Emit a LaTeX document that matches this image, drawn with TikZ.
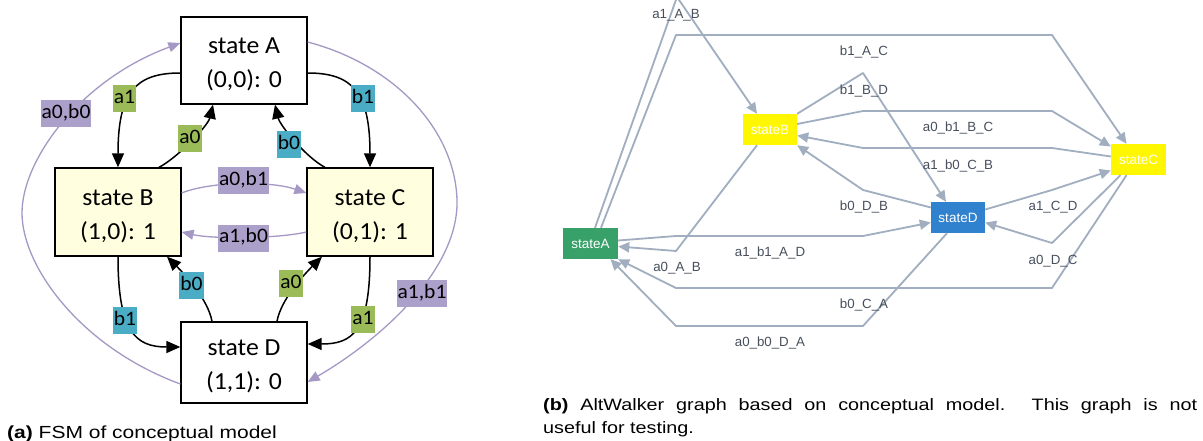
\documentclass[tikz,border=0pt]{standalone}
\usepackage{fontspec}
\usepackage{graphicx}
\usetikzlibrary{arrows.meta}

\newfontfamily\fsmfont[FakeStretch=1.05]{Carlito}
\newfontfamily\awfont{Liberation Sans}
\newfontfamily\capfont[FakeStretch=1.2]{Liberation Sans}

% left panel (FSM)
\definecolor{fsmgreen}{HTML}{9BBB59}
\definecolor{fsmblue}{HTML}{4BACC6}
\definecolor{fsmpurple}{HTML}{ABA0CA}
\definecolor{fsmline}{HTML}{A598C4}
\definecolor{fsmyellow}{HTML}{FFFFE0}
% right panel (AltWalker)
\definecolor{awline}{HTML}{A0AEC0}
\definecolor{awtext}{HTML}{474F5C}
\definecolor{awgreen}{HTML}{38A169}
\definecolor{awyellow}{HTML}{FFF700}
\definecolor{awblue}{HTML}{3182CE}

\begin{document}
\begin{tikzpicture}[x=1pt,y=-1pt,
  fsmstate/.style={draw=black,line width=1.3pt,minimum width=126pt,inner sep=0pt,
    align=center,font=\fsmfont\fontsize{24.5}{34}\selectfont},
  fsmlabel/.style={inner xsep=1pt,inner ysep=0pt,minimum height=27pt,
    text height=14pt,text depth=4pt,font=\fsmfont\fontsize{20.5}{22}\selectfont},
  fsmarrow/.style={line width=1.5pt,-{Triangle[length=14pt,width=12pt]}},
  fsmloop/.style={line width=1.3pt,color=fsmline,-{Triangle[length=12pt,width=10pt]}},
  awstate/.style={minimum width=55pt,minimum height=31pt,inner sep=0pt,text=white,
    font=\awfont\fontsize{13.5}{16}\selectfont},
  awedge/.style={line width=1.8pt,color=awline,line join=round,
    -{Triangle[length=11pt,width=10pt]}},
  awlabel/.style={text=awtext,inner sep=0pt,font=\awfont\fontsize{13.3}{15}\selectfont},
]
\clip (0,0) rectangle (1203,441);
\fill[white] (0,0) rectangle (1203,441);

% ---------------- FSM of the conceptual model ----------------
\node[fsmstate,minimum height=87pt] (A) at (244,60.5) {\rule{0pt}{24pt}state A\\(0,0): 0};
\node[fsmstate,minimum height=88pt,fill=fsmyellow] (B) at (118,212) {\rule{0pt}{24pt}state B\\(1,0): 1};
\node[fsmstate,minimum height=88pt,fill=fsmyellow] (C) at (370,212) {\rule{0pt}{24pt}state C\\(0,1): 1};
\node[fsmstate,minimum height=81pt] (D) at (244,362.5) {\rule{0pt}{24pt}state D\\(1,1): 0};

% single-input transitions
\draw[fsmarrow] ([yshift=-12.5pt]A.west) .. controls +(-45,0) and +(0,-75) .. (B.north);
\draw[fsmarrow] ([xshift=41pt]B.north) .. controls +(19,-10) and +(-5,21) .. ([xshift=-31pt]A.south);
\draw[fsmarrow] ([yshift=-12.5pt]A.east) .. controls +(45,0) and +(0,-75) .. (C.north);
\draw[fsmarrow] ([xshift=-45pt]C.north) .. controls +(-19,-10) and +(5,21) .. ([xshift=31pt]A.south);
\draw[fsmarrow] (B.south) .. controls +(0,75) and +(-45,0) .. ([yshift=15.5pt]D.west);
\draw[fsmarrow] ([xshift=-32pt]D.north) .. controls +(-4,-22) and +(18,18) .. ([xshift=49pt]B.south);
\draw[fsmarrow] ([xshift=33pt]D.north) .. controls +(4,-22) and +(-18,18) .. ([xshift=-48pt]C.south);
\draw[fsmarrow] (C.south) .. controls +(0,75) and +(45,0) .. ([yshift=18.5pt]D.east);

% two-input transitions
\draw[fsmloop] ([yshift=19pt]B.east) .. controls +(30,-12) and +(-35,-12) .. ([yshift=19pt]C.west);
\draw[fsmloop] ([yshift=-20pt]C.west) .. controls +(-30,7) and +(30,7) .. ([yshift=-20pt]B.east);
\draw[fsmloop] ([yshift=-21.5pt]D.west) .. controls (80,347) and (22,266) .. (22,213)
  .. controls (22,160) and (80,80) .. ([yshift=17.5pt]A.west);
\draw[fsmloop] ([yshift=18.5pt]A.east) .. controls (395,65) and (455,130) .. (457,200)
  .. controls (459,270) and (380,340) .. ([yshift=-19.5pt]D.east);

% transition labels
\node[fsmlabel,fill=fsmgreen] (lAB) at (124.5,99) {a1};
\node[fsmlabel,fill=fsmgreen] (lBA) at (190,138.5) {a0};
\node[fsmlabel,fill=fsmblue] (lAC) at (363,99) {b1};
\node[fsmlabel,fill=fsmblue] (lCA) at (289,144.5) {b0};
\node[fsmlabel,fill=fsmblue] (lBD) at (125,320.5) {b1};
\node[fsmlabel,fill=fsmblue] (lDB) at (191.5,285) {b0};
\node[fsmlabel,fill=fsmgreen] (lDC) at (291,283) {a0};
\node[fsmlabel,fill=fsmgreen] (lCD) at (363,319) {a1};
\node[fsmlabel,fill=fsmpurple] (lBC) at (243.5,180.5) {a0,b1};
\node[fsmlabel,fill=fsmpurple] (lCB) at (243.5,238) {a1,b0};
\node[fsmlabel,fill=fsmpurple] (lDA) at (66,113.5) {a0,b0};
\node[fsmlabel,fill=fsmpurple] (lAD) at (422,293) {a1,b1};

\node[anchor=base west,inner sep=0pt] (capa) at (7,438)
  {\capfont\fontsize{17.5}{21}\selectfont\textbf{(a)} FSM of conceptual model};

% ---------------- AltWalker graph ----------------
\node[awstate,fill=awgreen] (sA) at (590.5,243.5) {stateA};
\node[awstate,fill=awyellow,minimum width=54pt] (sB) at (770,129.5) {stateB};
\node[awstate,fill=awyellow] (sC) at (1138.5,159.5) {stateC};
\node[awstate,fill=awblue,minimum width=54pt] (sD) at (958,217.5) {stateD};

\draw[awedge] ([xshift=4.5pt]sA.north) -- (677,-3) -- ([xshift=-13pt]sB.north);
\draw[awedge] ([xshift=10.5pt]sA.north) -- (676,35) -- (1052,35) -- ([xshift=-12pt]sC.north);
\draw[awedge] (sB.north east) -- (863,73) -- ([xshift=-12pt]sD.north);
\draw[awedge] ([yshift=5.5pt]sB.east) -- (863,111) -- (1052,111) -- ([yshift=13pt]sC.west);
\draw[awedge] ([yshift=3pt]sC.west) -- (1052,148) -- (863,148) -- ([yshift=-6pt]sB.east);
\draw[awedge] ([yshift=10pt]sD.west) -- (863,190) -- (sB.south east);
\draw[awedge] ([yshift=3pt]sA.east) -- (676,236) -- (863,236) -- ([yshift=-5pt]sD.west);
\draw[awedge] ([xshift=-13pt]sB.south) -- (676,251) -- ([yshift=-3pt]sA.east);
\draw[awedge] ([xshift=-18pt]sC.south) -- (1052,243) -- ([yshift=-5pt]sD.east);
\draw[awedge] ([yshift=8pt]sD.east) -- (1052,190) -- ([yshift=-11pt]sC.west);
\draw[awedge] ([xshift=-12pt]sC.south) -- (1052,288) -- (676,288) -- (sA.south east);
\draw[awedge] ([xshift=-11pt]sD.south) -- (863,326) -- (676,326) -- ([xshift=20pt]sA.south);

\node[awlabel] (t1) at (676,15) {a1\_A\_B};
\node[awlabel] (t2) at (864,52) {b1\_A\_C};
\node[awlabel] (t3) at (864,91) {b1\_B\_D};
\node[awlabel] (t4) at (958,128) {a0\_b1\_B\_C};
\node[awlabel] (t5) at (958,166) {a1\_b0\_C\_B};
\node[awlabel] (t6) at (864,207) {b0\_D\_B};
\node[awlabel] (t7) at (770,253) {a1\_b1\_A\_D};
\node[awlabel] (t8) at (677,268) {a0\_A\_B};
\node[awlabel] (t9) at (1053,207) {a1\_C\_D};
\node[awlabel] (t10) at (1053,261) {a0\_D\_C};
\node[awlabel] (t11) at (864,305) {b0\_C\_A};
\node[awlabel] (t12) at (770,343) {a0\_b0\_D\_A};

\node[anchor=base west,inner sep=0pt] (capb1) at (543,410)
  {\capfont\fontsize{16.5}{23}\selectfont\makebox[654pt][s]{\textbf{(b)} AltWalker graph based on conceptual model. This graph is not}};
\node[anchor=base west,inner sep=0pt] (capb2) at (543,433)
  {\capfont\fontsize{16.5}{23}\selectfont useful for testing.};
\end{tikzpicture}
\end{document}
